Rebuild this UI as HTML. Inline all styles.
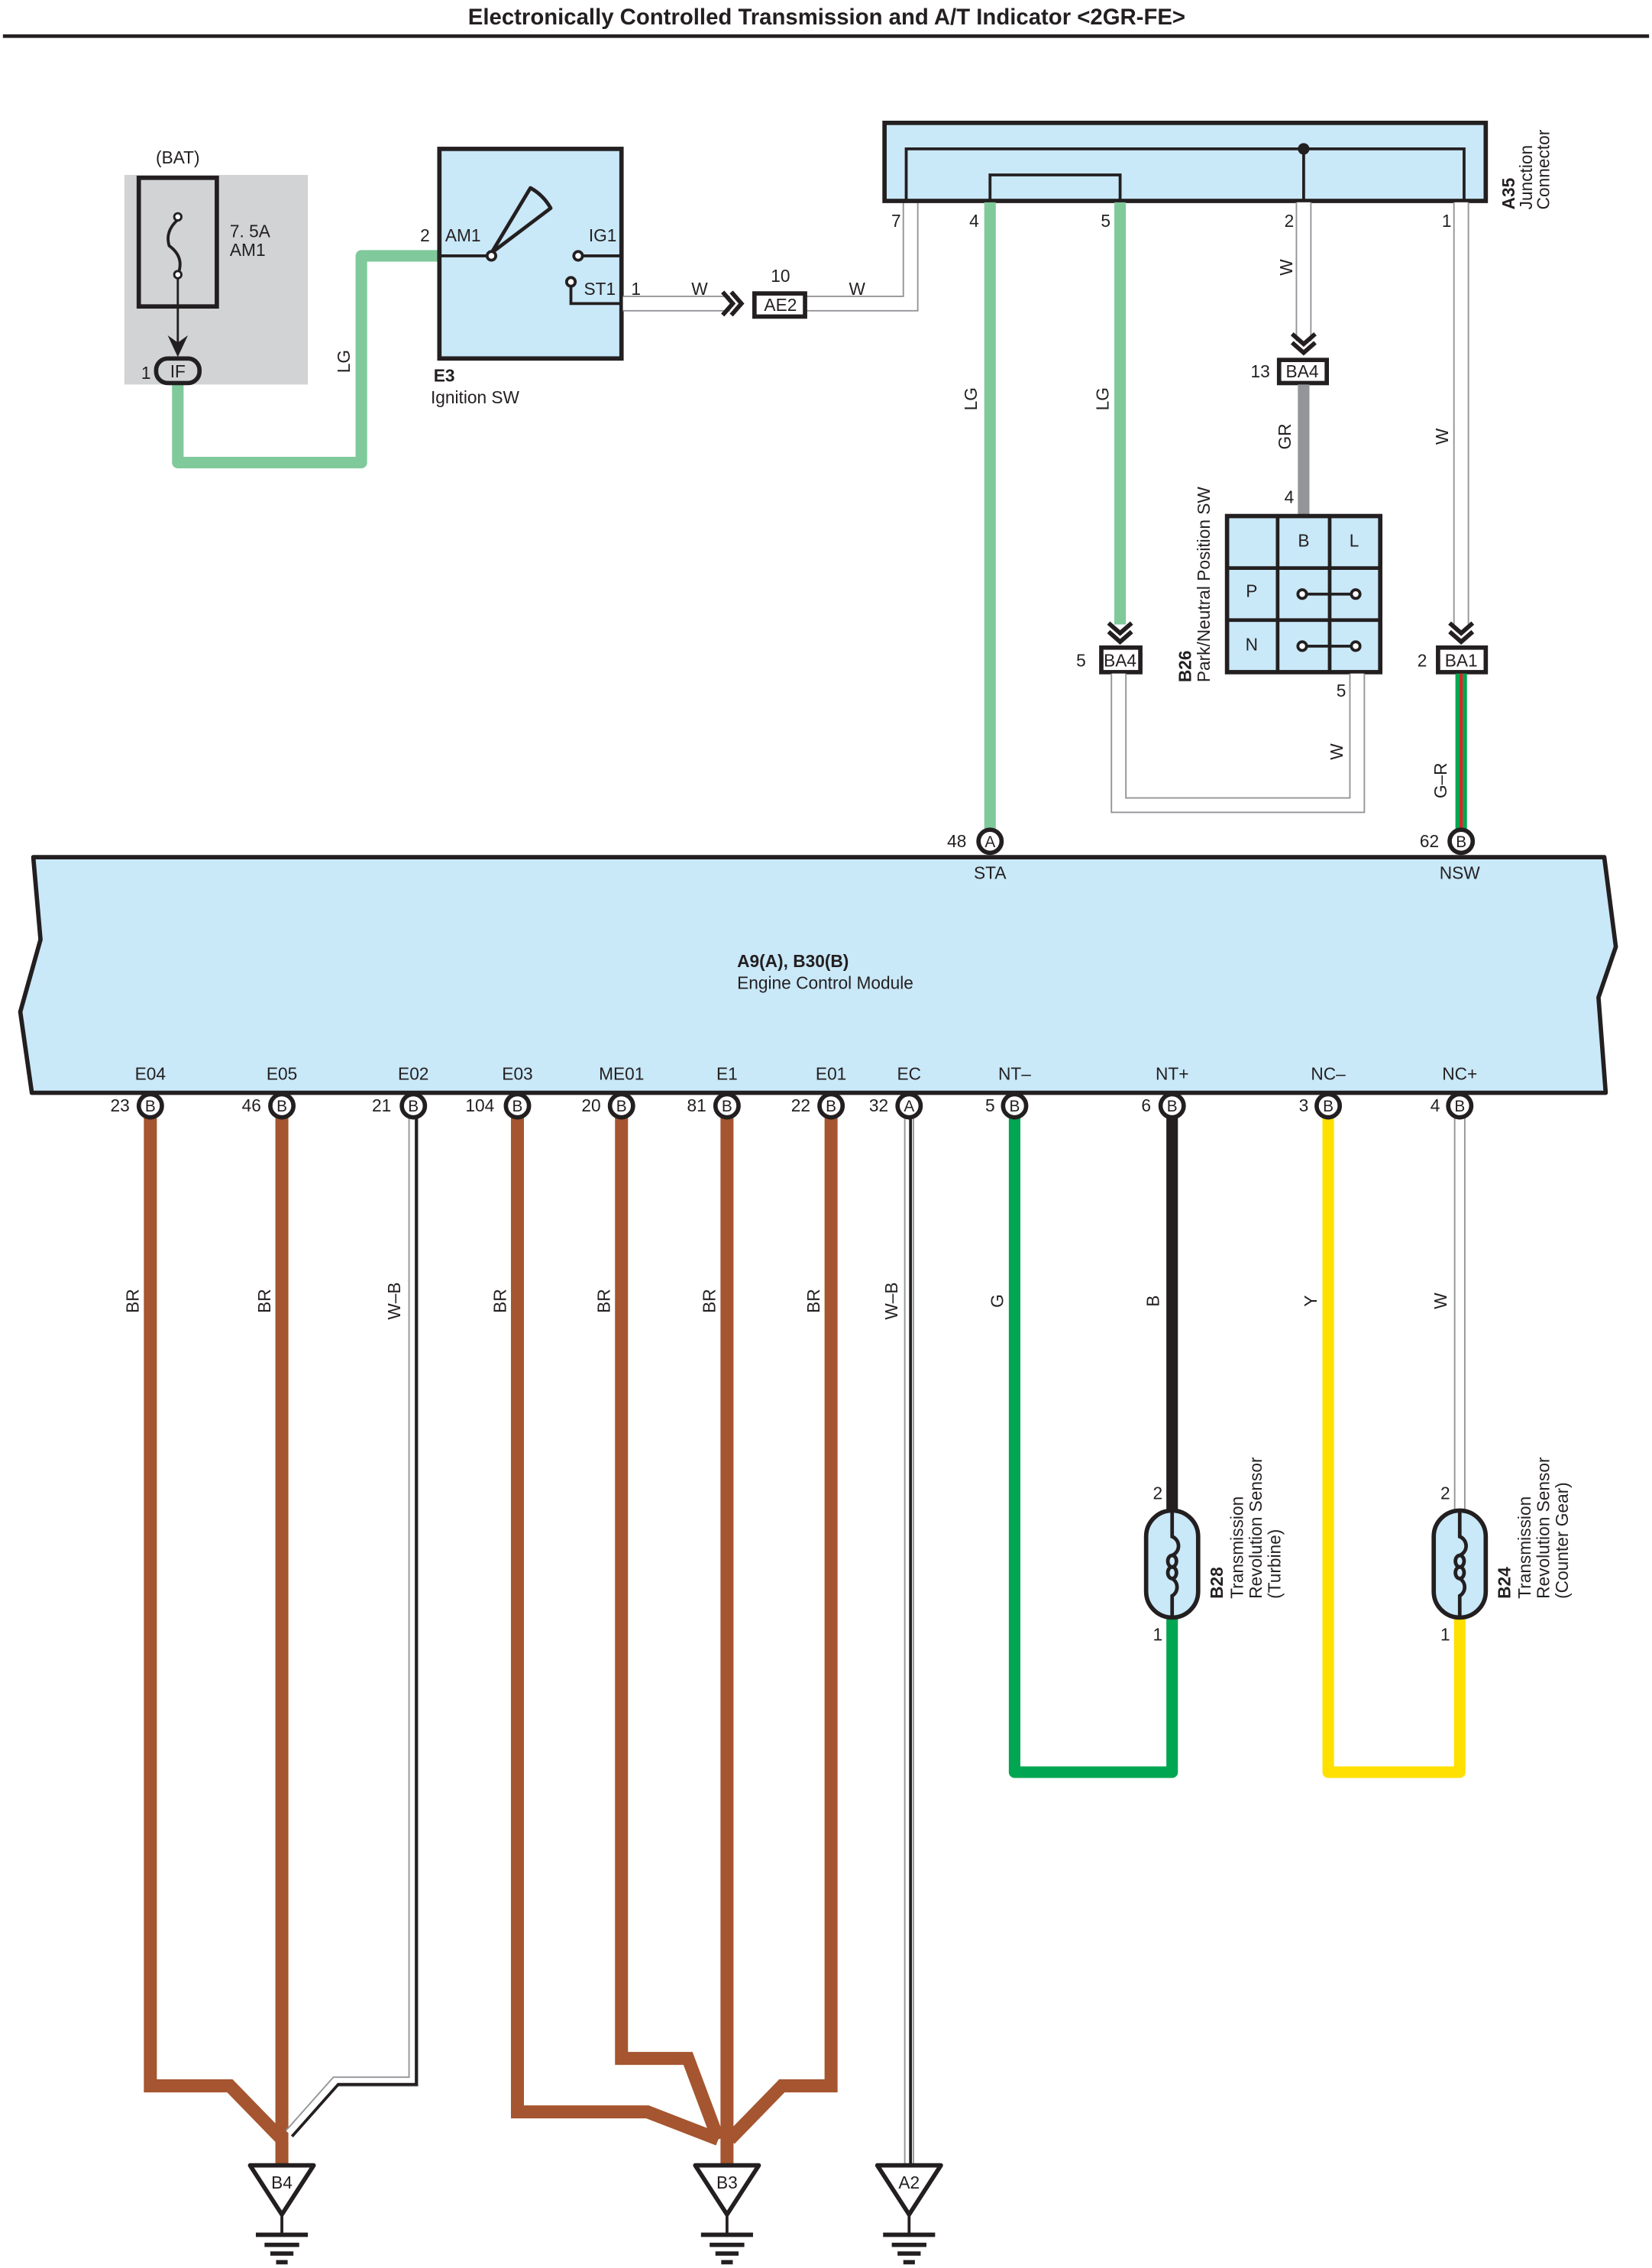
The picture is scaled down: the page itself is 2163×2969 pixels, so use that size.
<!DOCTYPE html>
<html><head><meta charset="utf-8"><style>
html,body{margin:0;padding:0;background:#fff}
svg{display:block}
text{font-family:"Liberation Sans",sans-serif;fill:#231f20}
</style></head><body>
<svg xmlns="http://www.w3.org/2000/svg" width="2163" height="2969" viewBox="0 0 1143 1569">
<defs>
<g id="gnd"><path d="M-22,0 L22,0 L0,34 Z" fill="#fff" stroke="#231f20" stroke-width="3" stroke-linejoin="round"/><line x1="0" y1="34" x2="0" y2="48" stroke="#231f20" stroke-width="2"/><g stroke="#231f20" stroke-width="3"><line x1="-18" y1="48" x2="18" y2="48"/><line x1="-12" y1="55" x2="12" y2="55"/><line x1="-8" y1="61" x2="8" y2="61"/><line x1="-4" y1="67" x2="4" y2="67"/></g></g>
<g id="chev" fill="none" stroke="#231f20" stroke-width="3"><polyline points="-8,-12 0,-5 8,-12"/><polyline points="-8,-6 0,1 8,-6"/></g>
<g id="sens"><rect x="-18" y="-37" width="36" height="74" rx="18" fill="#c9e8f8" stroke="#231f20" stroke-width="3"/>
<g fill="none" stroke="#231f20" stroke-width="2.5"><path d="M0,-37 V-19 A7,7 0 0 1 0,-6"/><ellipse cx="0" cy="-2" rx="3" ry="4"/><ellipse cx="0" cy="6" rx="3" ry="4"/><path d="M0,10 A7,7 0 0 1 0,22 V37"/></g></g>
</defs>
<text x="572" y="17" font-size="15.5" font-weight="bold" text-anchor="middle">Electronically Controlled Transmission and A/T Indicator &lt;2GR-FE&gt;</text>
<line x1="2" y1="25" x2="1141" y2="25" stroke="#231f20" stroke-width="2.5"/>

<rect x="86" y="121" width="127" height="145" fill="#d1d3d4"/>
<text x="123" y="113" font-size="12" text-anchor="middle">(BAT)</text>
<rect x="96" y="123" width="54" height="89" fill="#d1d3d4" stroke="#231f20" stroke-width="3"/>
<path d="M123,152 Q114,160 117,170 Q128,178 123,190" fill="none" stroke="#231f20" stroke-width="2"/>
<circle cx="123" cy="150" r="2.5" fill="#fff" stroke="#231f20" stroke-width="1.5"/>
<circle cx="123" cy="190" r="2.5" fill="#fff" stroke="#231f20" stroke-width="1.5"/>
<text x="159" y="164" font-size="12">7. 5A</text><text x="159" y="177" font-size="12">AM1</text>
<line x1="123" y1="192" x2="123" y2="238" stroke="#231f20" stroke-width="1.5"/>
<path d="M116,232 L123,247 L130,232 L123,237 Z" fill="#231f20"/>
<path d="M123,265 V320 H250 V177 H303" fill="none" stroke="#80c99b" stroke-width="8" stroke-linejoin="round"/>
<rect x="108" y="248" width="30" height="17" rx="8" fill="#d1d3d4" stroke="#231f20" stroke-width="3"/>
<text x="123" y="261" font-size="12" text-anchor="middle">IF</text>
<text x="101" y="262" font-size="12" text-anchor="middle">1</text>
<text transform="translate(242,250) rotate(-90)" font-size="12" text-anchor="middle">LG</text>

<rect x="304" y="103" width="126" height="145" fill="#c9e8f8" stroke="#231f20" stroke-width="3"/>
<text x="294" y="167" font-size="12" text-anchor="middle">2</text>
<text x="308" y="167" font-size="12">AM1</text>
<line x1="304" y1="177" x2="338" y2="177" stroke="#231f20" stroke-width="2"/>
<path d="M340,175 L367,130 Q376,135 381,144 Z" fill="none" stroke="#231f20" stroke-width="2.5" stroke-linejoin="round"/>
<circle cx="340" cy="177" r="3" fill="#fff" stroke="#231f20" stroke-width="2"/>
<text x="417" y="167" font-size="12" text-anchor="middle">IG1</text>
<line x1="402" y1="177" x2="430" y2="177" stroke="#231f20" stroke-width="2"/>
<circle cx="400" cy="177" r="3" fill="#fff" stroke="#231f20" stroke-width="2"/>
<text x="415" y="204" font-size="12" text-anchor="middle">ST1</text>
<polyline points="395,197 395,210 430,210" fill="none" stroke="#231f20" stroke-width="2"/>
<circle cx="395" cy="195" r="3" fill="#fff" stroke="#231f20" stroke-width="2"/>
<text x="300" y="264" font-size="12" font-weight="bold">E3</text>
<text x="298" y="279" font-size="12">Ignition SW</text>
<text x="440" y="204" font-size="12" text-anchor="middle">1</text>
<path d="M431,210 H505 M558,210 H630 V140" fill="none" stroke="#939598" stroke-width="11"/>
<path d="M431,210 H505 M558,210 H630 V140" fill="none" stroke="#fff" stroke-width="9"/>
<text x="484" y="204" font-size="12" text-anchor="middle">W</text>
<text x="593" y="204" font-size="12" text-anchor="middle">W</text>
<g transform="translate(512,210) rotate(-90)"><use href="#chev"/></g>
<rect x="522" y="203" width="35" height="16" fill="#fff" stroke="#231f20" stroke-width="3"/>
<text x="540" y="215" font-size="12" text-anchor="middle">AE2</text>
<text x="540" y="195" font-size="12" text-anchor="middle">10</text>

<rect x="612" y="85" width="416" height="54" fill="#c9e8f8" stroke="#231f20" stroke-width="3"/>
<polyline points="627,139 627,103 1013,103 1013,139" fill="none" stroke="#231f20" stroke-width="2"/>
<polyline points="685,139 685,121 775,121 775,139" fill="none" stroke="#231f20" stroke-width="2"/>
<line x1="902" y1="103" x2="902" y2="139" stroke="#231f20" stroke-width="2"/>
<circle cx="902" cy="103" r="4" fill="#231f20"/>
<text transform="translate(1048,145) rotate(-90)" font-size="12" font-weight="bold">A35</text>
<text transform="translate(1060,145) rotate(-90)" font-size="12">Junction</text>
<text transform="translate(1072,145) rotate(-90)" font-size="12">Connector</text>
<g font-size="12" text-anchor="middle"><text x="620" y="157">7</text><text x="674" y="157">4</text><text x="765" y="157">5</text><text x="892" y="157">2</text><text x="1001" y="157">1</text></g>

<line x1="685" y1="140" x2="685" y2="575" stroke="#80c99b" stroke-width="8"/>
<line x1="775" y1="140" x2="775" y2="432" stroke="#80c99b" stroke-width="8"/>
<text transform="translate(676,276) rotate(-90)" font-size="12" text-anchor="middle">LG</text>
<text transform="translate(767,276) rotate(-90)" font-size="12" text-anchor="middle">LG</text>
<g transform="translate(775,443)"><use href="#chev"/></g>
<rect x="762" y="448" width="27" height="17" fill="#fff" stroke="#231f20" stroke-width="3"/>
<text x="775" y="461" font-size="12" text-anchor="middle">BA4</text>
<text x="748" y="461" font-size="12" text-anchor="middle">5</text>

<line x1="902" y1="140" x2="902" y2="236" stroke="#939598" stroke-width="11"/>
<line x1="902" y1="140" x2="902" y2="236" stroke="#fff" stroke-width="9"/>
<text transform="translate(894,185) rotate(-90)" font-size="12" text-anchor="middle">W</text>
<g transform="translate(902,243)"><use href="#chev"/></g>
<rect x="885" y="249" width="33" height="16" fill="#fff" stroke="#231f20" stroke-width="3"/>
<text x="901" y="261" font-size="12" text-anchor="middle">BA4</text>
<text x="872" y="261" font-size="12" text-anchor="middle">13</text>
<line x1="902" y1="266" x2="902" y2="356" stroke="#939598" stroke-width="8"/>
<text transform="translate(893,302) rotate(-90)" font-size="12" text-anchor="middle">GR</text>
<text x="892" y="348" font-size="12" text-anchor="middle">4</text>

<rect x="849" y="357" width="106" height="108" fill="#c9e8f8" stroke="#231f20" stroke-width="3"/>
<g stroke="#231f20" stroke-width="2.5"><line x1="884" y1="357" x2="884" y2="465"/><line x1="920" y1="357" x2="920" y2="465"/><line x1="849" y1="393" x2="955" y2="393"/><line x1="849" y1="429" x2="955" y2="429"/></g>
<g font-size="12" text-anchor="middle"><text x="902" y="378">B</text><text x="937" y="378">L</text><text x="866" y="413">P</text><text x="866" y="450">N</text></g>
<g stroke="#231f20" stroke-width="2" fill="#fff"><line x1="902" y1="411" x2="937" y2="411"/><line x1="902" y1="447" x2="937" y2="447"/><circle cx="901" cy="411" r="3"/><circle cx="938" cy="411" r="3"/><circle cx="901" cy="447" r="3"/><circle cx="938" cy="447" r="3"/></g>
<text transform="translate(824,472) rotate(-90)" font-size="12" font-weight="bold">B26</text>
<text transform="translate(837,472) rotate(-90)" font-size="12">Park/Neutral Position SW</text>
<path d="M774,466 V557 H939 V466" fill="none" stroke="#939598" stroke-width="11"/>
<path d="M774,466 V557 H939 V466" fill="none" stroke="#fff" stroke-width="9"/>
<text x="928" y="482" font-size="12" text-anchor="middle">5</text>
<text transform="translate(929,520) rotate(-90)" font-size="12" text-anchor="middle">W</text>

<line x1="1011" y1="140" x2="1011" y2="432" stroke="#939598" stroke-width="11"/>
<line x1="1011" y1="140" x2="1011" y2="432" stroke="#fff" stroke-width="9"/>
<text transform="translate(1002,302) rotate(-90)" font-size="12" text-anchor="middle">W</text>
<g transform="translate(1011,443)"><use href="#chev"/></g>
<rect x="995" y="448" width="33" height="17" fill="#fff" stroke="#231f20" stroke-width="3"/>
<text x="1011" y="461" font-size="12" text-anchor="middle">BA1</text>
<text x="984" y="461" font-size="12" text-anchor="middle">2</text>
<line x1="1011" y1="466" x2="1011" y2="575" stroke="#00a651" stroke-width="8"/>
<line x1="1011" y1="466" x2="1011" y2="575" stroke="#ed1c24" stroke-width="2"/>
<text transform="translate(1001,540) rotate(-90)" font-size="12" text-anchor="middle">G–R</text>

<path d="M23,593 L1110,593 L1118,655 L1106,690 L1111,756 L22,756 L14,700 L28,650 Z" fill="#c9e8f8" stroke="#231f20" stroke-width="3" stroke-linejoin="round"/>
<circle cx="685" cy="582" r="8" fill="#fff" stroke="#231f20" stroke-width="3"/><text x="685" y="586" font-size="11" text-anchor="middle">A</text>
<circle cx="1011" cy="582" r="8" fill="#fff" stroke="#231f20" stroke-width="3"/><text x="1011" y="586" font-size="11" text-anchor="middle">B</text>
<text x="662" y="586" font-size="12" text-anchor="middle">48</text><text x="989" y="586" font-size="12" text-anchor="middle">62</text>
<text x="685" y="608" font-size="12" text-anchor="middle">STA</text><text x="1010" y="608" font-size="12" text-anchor="middle">NSW</text>
<text x="510" y="669" font-size="12" font-weight="bold">A9(A), B30(B)</text>
<text x="510" y="684" font-size="12">Engine Control Module</text>

<g fill="none" stroke="#a5552f" stroke-width="9" stroke-linejoin="miter">
<path d="M104,772 V1443 H159 L195,1480"/>
<path d="M195,772 V1497"/>
<path d="M358,772 V1461 H448 L497,1480"/>
<path d="M430,772 V1424 H476 L497,1480"/>
<path d="M503,772 V1497"/>
<path d="M575,772 V1443 H541 L505,1480"/>
</g>
<path d="M286,772 V1440 H232 L200,1476" fill="none" stroke="#939598" stroke-width="7"/>
<path d="M286,772 V1440 H232 L200,1476" fill="none" stroke="#fff" stroke-width="5"/>
<path d="M288,772 V1442 H234 L202,1478" fill="none" stroke="#231f20" stroke-width="2"/>
<line x1="629" y1="772" x2="629" y2="1497" stroke="#939598" stroke-width="7"/>
<line x1="629" y1="772" x2="629" y2="1497" stroke="#fff" stroke-width="5"/>
<line x1="630" y1="772" x2="630" y2="1497" stroke="#231f20" stroke-width="2"/>
<path d="M702,772 V1226 H811 V1120" fill="none" stroke="#00a651" stroke-width="8" stroke-linejoin="round"/>
<line x1="811" y1="772" x2="811" y2="1046" stroke="#231f20" stroke-width="8"/>
<path d="M919,772 V1226 H1010 V1120" fill="none" stroke="#ffe000" stroke-width="8" stroke-linejoin="round"/>
<line x1="1010" y1="772" x2="1010" y2="1046" stroke="#939598" stroke-width="8"/>
<line x1="1010" y1="772" x2="1010" y2="1046" stroke="#fff" stroke-width="6"/>

<g font-size="12" text-anchor="middle">
<text x="104" y="747">E04</text><text x="195" y="747">E05</text><text x="286" y="747">E02</text><text x="358" y="747">E03</text><text x="430" y="747">ME01</text><text x="503" y="747">E1</text><text x="575" y="747">E01</text><text x="629" y="747">EC</text><text x="702" y="747">NT–</text><text x="811" y="747">NT+</text><text x="919" y="747">NC–</text><text x="1010" y="747">NC+</text>
<text x="83" y="769">23</text><text x="174" y="769">46</text><text x="264" y="769">21</text><text x="332" y="769">104</text><text x="409" y="769">20</text><text x="482" y="769">81</text><text x="554" y="769">22</text><text x="608" y="769">32</text><text x="685" y="769">5</text><text x="793" y="769">6</text><text x="902" y="769">3</text><text x="993" y="769">4</text>
</g>
<g fill="#fff" stroke="#231f20" stroke-width="3">
<circle cx="104" cy="765" r="8"/><circle cx="195" cy="765" r="8"/><circle cx="286" cy="765" r="8"/><circle cx="358" cy="765" r="8"/><circle cx="430" cy="765" r="8"/><circle cx="503" cy="765" r="8"/><circle cx="575" cy="765" r="8"/><circle cx="629" cy="765" r="8"/><circle cx="702" cy="765" r="8"/><circle cx="811" cy="765" r="8"/><circle cx="919" cy="765" r="8"/><circle cx="1010" cy="765" r="8"/>
</g>
<g font-size="11" text-anchor="middle">
<text x="104" y="769">B</text><text x="195" y="769">B</text><text x="286" y="769">B</text><text x="358" y="769">B</text><text x="430" y="769">B</text><text x="503" y="769">B</text><text x="575" y="769">B</text><text x="629" y="769">A</text><text x="702" y="769">B</text><text x="811" y="769">B</text><text x="919" y="769">B</text><text x="1010" y="769">B</text>
</g>
<g font-size="12" text-anchor="middle">
<text transform="translate(96,900) rotate(-90)">BR</text>
<text transform="translate(187,900) rotate(-90)">BR</text>
<text transform="translate(277,900) rotate(-90)">W–B</text>
<text transform="translate(350,900) rotate(-90)">BR</text>
<text transform="translate(422,900) rotate(-90)">BR</text>
<text transform="translate(495,900) rotate(-90)">BR</text>
<text transform="translate(567,900) rotate(-90)">BR</text>
<text transform="translate(621,900) rotate(-90)">W–B</text>
<text transform="translate(694,900) rotate(-90)">G</text>
<text transform="translate(802,900) rotate(-90)">B</text>
<text transform="translate(911,900) rotate(-90)">Y</text>
<text transform="translate(1001,900) rotate(-90)">W</text>
</g>

<g transform="translate(811,1082)"><use href="#sens"/></g>
<g transform="translate(1010,1082)"><use href="#sens"/></g>
<g font-size="12" text-anchor="middle"><text x="801" y="1037">2</text><text x="801" y="1135">1</text><text x="1000" y="1037">2</text><text x="1000" y="1135">1</text></g>
<text transform="translate(846,1106) rotate(-90)" font-size="12" font-weight="bold">B28</text>
<text transform="translate(860,1106) rotate(-90)" font-size="12">Transmission</text>
<text transform="translate(873,1106) rotate(-90)" font-size="12">Revolution Sensor</text>
<text transform="translate(886,1106) rotate(-90)" font-size="12">(Turbine)</text>
<text transform="translate(1045,1106) rotate(-90)" font-size="12" font-weight="bold">B24</text>
<text transform="translate(1059,1106) rotate(-90)" font-size="12">Transmission</text>
<text transform="translate(1072,1106) rotate(-90)" font-size="12">Revolution Sensor</text>
<text transform="translate(1085,1106) rotate(-90)" font-size="12">(Counter Gear)</text>

<g transform="translate(195,1498)"><use href="#gnd"/></g>
<g transform="translate(503,1498)"><use href="#gnd"/></g>
<g transform="translate(629,1498)"><use href="#gnd"/></g>
<g font-size="12" text-anchor="middle"><text x="195" y="1514">B4</text><text x="503" y="1514">B3</text><text x="629" y="1514">A2</text></g>
</svg>
</body></html>
